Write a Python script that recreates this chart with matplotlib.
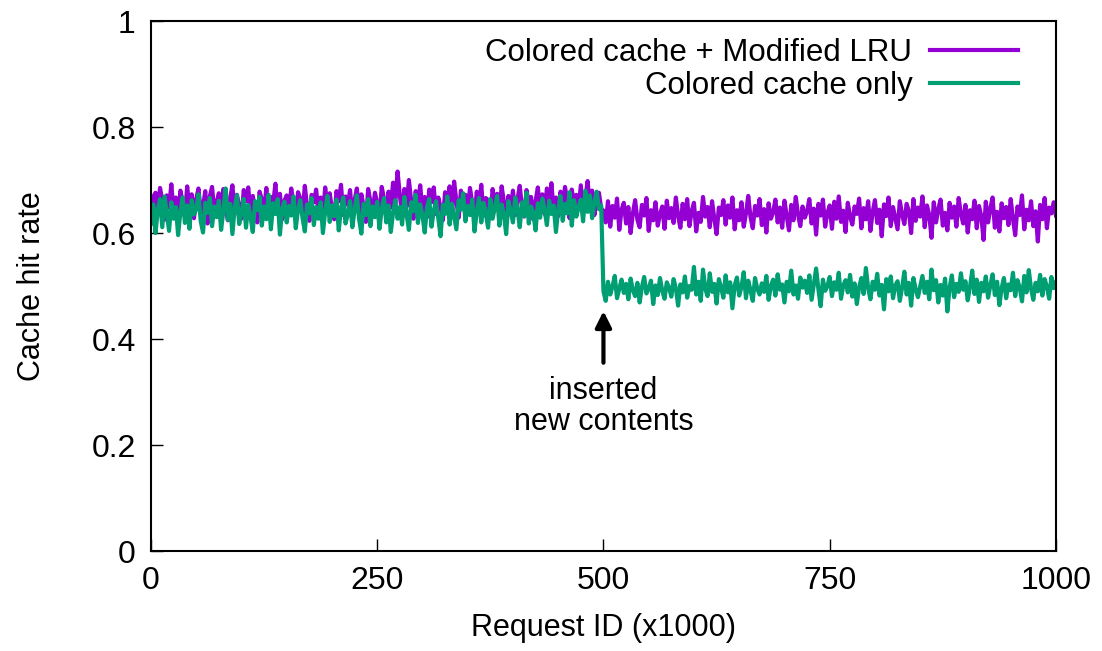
import numpy as np
import matplotlib
matplotlib.use("Agg")
import matplotlib.pyplot as plt

# Request ID (x1000), sampled every 2.5k requests
request_id = np.arange(0, 1000.1, 2.5)

# Colored cache + Modified LRU
modified_lru = [
    0.633, 0.668, 0.676, 0.641, 0.685, 0.662, 0.625, 0.671, 0.648, 0.692,
    0.639, 0.667, 0.622, 0.680, 0.659, 0.631, 0.688, 0.645, 0.673, 0.628,
    0.664, 0.684, 0.637, 0.650, 0.679, 0.618, 0.669, 0.687, 0.640, 0.657,
    0.675, 0.630, 0.683, 0.647, 0.624, 0.666, 0.690, 0.636, 0.672, 0.651,
    0.627, 0.681, 0.660, 0.686, 0.634, 0.670, 0.646, 0.620, 0.678, 0.663,
    0.642, 0.685, 0.632, 0.668, 0.655, 0.693, 0.638, 0.674, 0.626, 0.661,
    0.671, 0.640, 0.684, 0.653, 0.629, 0.677, 0.665, 0.635, 0.689, 0.649,
    0.623, 0.672, 0.658, 0.682, 0.639, 0.667, 0.631, 0.686, 0.652, 0.675,
    0.645, 0.626, 0.679, 0.660, 0.691, 0.634, 0.669, 0.654, 0.681, 0.630,
    0.662, 0.684, 0.637, 0.673, 0.650, 0.621, 0.683, 0.659, 0.641, 0.676,
    0.656, 0.632, 0.687, 0.664, 0.638, 0.678, 0.648, 0.695, 0.657, 0.716,
    0.671, 0.636, 0.683, 0.650, 0.700, 0.661, 0.627, 0.679, 0.653, 0.690,
    0.640, 0.668, 0.630, 0.682, 0.658, 0.686, 0.636, 0.667, 0.649, 0.624,
    0.677, 0.652, 0.688, 0.635, 0.697, 0.660, 0.629, 0.680, 0.646, 0.672,
    0.638, 0.685, 0.657, 0.625, 0.678, 0.650, 0.691, 0.633, 0.666, 0.662,
    0.628, 0.683, 0.652, 0.674, 0.640, 0.688, 0.659, 0.622, 0.670, 0.647,
    0.680, 0.634, 0.663, 0.689, 0.648, 0.631, 0.681, 0.655, 0.668, 0.626,
    0.660, 0.686, 0.642, 0.673, 0.636, 0.684, 0.654, 0.694, 0.640, 0.667,
    0.632, 0.678, 0.650, 0.687, 0.661, 0.628, 0.682, 0.656, 0.672, 0.645,
    0.690, 0.637, 0.666, 0.698, 0.651, 0.680, 0.634, 0.663, 0.676, 0.646,
    0.642, 0.620, 0.660, 0.612, 0.651, 0.629, 0.665, 0.606, 0.644, 0.657,
    0.618, 0.649, 0.600, 0.637, 0.662, 0.625, 0.611, 0.653, 0.633, 0.666,
    0.604, 0.643, 0.624, 0.658, 0.614, 0.636, 0.650, 0.608, 0.661, 0.628,
    0.647, 0.619, 0.667, 0.632, 0.610, 0.655, 0.626, 0.664, 0.613, 0.641,
    0.657, 0.603, 0.638, 0.621, 0.668, 0.631, 0.649, 0.611, 0.660, 0.627,
    0.598, 0.648, 0.634, 0.662, 0.616, 0.652, 0.629, 0.667, 0.607, 0.643,
    0.624, 0.658, 0.612, 0.637, 0.670, 0.630, 0.609, 0.651, 0.633, 0.664,
    0.615, 0.645, 0.601, 0.656, 0.627, 0.639, 0.663, 0.620, 0.648, 0.610,
    0.661, 0.632, 0.605, 0.653, 0.624, 0.668, 0.635, 0.613, 0.650, 0.629,
    0.641, 0.664, 0.618, 0.646, 0.597, 0.655, 0.633, 0.663, 0.612, 0.638,
    0.652, 0.608, 0.659, 0.627, 0.669, 0.621, 0.642, 0.602, 0.657, 0.631,
    0.616, 0.650, 0.636, 0.665, 0.609, 0.647, 0.626, 0.660, 0.604, 0.640,
    0.662, 0.619, 0.644, 0.594, 0.654, 0.632, 0.667, 0.613, 0.649, 0.628,
    0.607, 0.660, 0.635, 0.617, 0.655, 0.641, 0.600, 0.664, 0.623, 0.648,
    0.631, 0.669, 0.611, 0.652, 0.634, 0.591, 0.658, 0.620, 0.645, 0.663,
    0.614, 0.638, 0.605, 0.657, 0.629, 0.650, 0.612, 0.666, 0.636, 0.618,
    0.653, 0.601, 0.643, 0.626, 0.661, 0.609, 0.651, 0.632, 0.587, 0.659,
    0.620, 0.646, 0.667, 0.610, 0.640, 0.603, 0.656, 0.628, 0.649, 0.615,
    0.664, 0.627, 0.596, 0.650, 0.634, 0.671, 0.607, 0.644, 0.624, 0.660,
    0.613, 0.641, 0.584, 0.653, 0.626, 0.666, 0.609, 0.648, 0.637, 0.658,
    0.633,
]

# Colored cache only
cache_only = [
    0.618, 0.654, 0.600, 0.643, 0.664, 0.611, 0.669, 0.636, 0.604, 0.658,
    0.627, 0.649, 0.596, 0.640, 0.667, 0.619, 0.652, 0.608, 0.662, 0.635,
    0.645, 0.673, 0.622, 0.601, 0.657, 0.638, 0.666, 0.613, 0.650, 0.630,
    0.661, 0.606, 0.642, 0.684, 0.625, 0.655, 0.598, 0.648, 0.671, 0.617,
    0.639, 0.664, 0.610, 0.653, 0.631, 0.602, 0.660, 0.643, 0.668, 0.614,
    0.650, 0.626, 0.672, 0.607, 0.656, 0.636, 0.664, 0.597, 0.646, 0.659,
    0.620, 0.651, 0.633, 0.669, 0.609, 0.645, 0.662, 0.628, 0.603, 0.654,
    0.637, 0.666, 0.615, 0.649, 0.627, 0.658, 0.600, 0.641, 0.670, 0.621,
    0.652, 0.632, 0.663, 0.605, 0.647, 0.667, 0.618, 0.636, 0.660, 0.611,
    0.643, 0.671, 0.626, 0.599, 0.655, 0.634, 0.664, 0.613, 0.650, 0.630,
    0.659, 0.608, 0.645, 0.666, 0.620, 0.652, 0.602, 0.638, 0.662, 0.627,
    0.649, 0.616, 0.668, 0.635, 0.606, 0.658, 0.641, 0.672, 0.619, 0.654,
    0.633, 0.601, 0.648, 0.664, 0.612, 0.642, 0.660, 0.628, 0.594, 0.653,
    0.636, 0.669, 0.616, 0.655, 0.631, 0.607, 0.662, 0.644, 0.675, 0.622,
    0.651, 0.634, 0.663, 0.603, 0.640, 0.666, 0.620, 0.657, 0.637, 0.610,
    0.664, 0.627, 0.648, 0.670, 0.614, 0.654, 0.635, 0.598, 0.660, 0.641,
    0.620, 0.667, 0.645, 0.611, 0.658, 0.632, 0.676, 0.618, 0.650, 0.638,
    0.605, 0.656, 0.629, 0.665, 0.643, 0.615, 0.661, 0.636, 0.652, 0.602,
    0.644, 0.670, 0.623, 0.655, 0.637, 0.677, 0.614, 0.662, 0.631, 0.649,
    0.663, 0.622, 0.680, 0.640, 0.671, 0.628, 0.657, 0.678, 0.645, 0.652,
    0.490, 0.472, 0.508, 0.484, 0.499, 0.519, 0.477, 0.495, 0.512, 0.487,
    0.504, 0.475, 0.514, 0.492, 0.481, 0.506, 0.469, 0.498, 0.517, 0.486,
    0.495, 0.510, 0.466, 0.501, 0.483, 0.515, 0.491, 0.476, 0.507, 0.497,
    0.480, 0.513, 0.496, 0.463, 0.503, 0.488, 0.518, 0.478, 0.500, 0.493,
    0.536, 0.484, 0.508, 0.472, 0.531, 0.495, 0.481, 0.524, 0.489, 0.504,
    0.467, 0.513, 0.497, 0.478, 0.520, 0.488, 0.507, 0.458, 0.501, 0.516,
    0.482, 0.498, 0.526, 0.477, 0.510, 0.492, 0.472, 0.515, 0.495, 0.484,
    0.505, 0.489, 0.519, 0.474, 0.500, 0.512, 0.482, 0.522, 0.493, 0.503,
    0.469, 0.508, 0.490, 0.529, 0.484, 0.501, 0.476, 0.516, 0.497, 0.510,
    0.487, 0.520, 0.474, 0.504, 0.533, 0.494, 0.462, 0.512, 0.491, 0.500,
    0.517, 0.481, 0.507, 0.493, 0.525, 0.476, 0.501, 0.511, 0.488, 0.521,
    0.480, 0.505, 0.466, 0.498, 0.515, 0.485, 0.534, 0.496, 0.475, 0.508,
    0.493, 0.523, 0.482, 0.502, 0.456, 0.513, 0.490, 0.518, 0.477, 0.501,
    0.509, 0.472, 0.497, 0.527, 0.484, 0.506, 0.463, 0.515, 0.494, 0.479,
    0.499, 0.519, 0.487, 0.508, 0.475, 0.531, 0.492, 0.511, 0.469, 0.502,
    0.482, 0.514, 0.452, 0.497, 0.520, 0.479, 0.504, 0.489, 0.524, 0.493,
    0.509, 0.473, 0.498, 0.529, 0.485, 0.512, 0.470, 0.506, 0.490, 0.518,
    0.478, 0.501, 0.522, 0.483, 0.508, 0.464, 0.496, 0.515, 0.477, 0.503,
    0.492, 0.525, 0.481, 0.511, 0.497, 0.471, 0.519, 0.488, 0.530, 0.495,
    0.474, 0.506, 0.490, 0.521, 0.482, 0.513, 0.499, 0.476, 0.517, 0.496,
    0.507,
]

x_ticks = [0, 250, 500, 750, 1000]
y_ticks = [0, 0.2, 0.4, 0.6, 0.8, 1]
y_tick_labels = ["0", "0.2", "0.4", "0.6", "0.8", "1"]

plt.rcParams['font.family'] = ['Liberation Sans', 'DejaVu Sans']
plt.rcParams['font.size'] = 22

fig = plt.figure(figsize=(11.02, 6.51), dpi=100)
ax = fig.add_axes([0.137, 0.1536, 0.8212, 0.8141])

ax.plot(request_id, modified_lru, color='#9400D3', lw=3, label='Colored cache + Modified LRU')
ax.plot(request_id, cache_only, color='#009E73', lw=3, label='Colored cache only')

ax.set_xlim(0, 1000)
ax.set_ylim(0, 1)
ax.set_xticks(x_ticks)
ax.set_yticks(y_ticks)
ax.set_yticklabels(y_tick_labels)
ax.tick_params(direction='in', length=8.5, width=1, pad=11, labelsize=23)
for s in ax.spines.values():
    s.set_linewidth(1.5)

ax.set_xlabel('Request ID (x1000)', labelpad=12)
ax.set_ylabel('Cache hit rate', labelpad=32)

# arrow pointing at the drop
ax.annotate('', xy=(500, 0.458), xytext=(500, 0.35),
            arrowprops=dict(arrowstyle='-|>', color='black', lw=3, mutation_scale=24))
ax.text(500, 0.272, 'inserted\nnew contents', ha='center', va='center', linespacing=1.05)

ax.legend(loc='upper right', bbox_to_anchor=(0.958, 0.968), frameon=False,
          markerfirst=False, handlelength=2.8, handletextpad=0.58,
          labelspacing=0.1, borderpad=0, borderaxespad=0, fontsize=22.5)

fig.savefig('out.png', dpi=100)
